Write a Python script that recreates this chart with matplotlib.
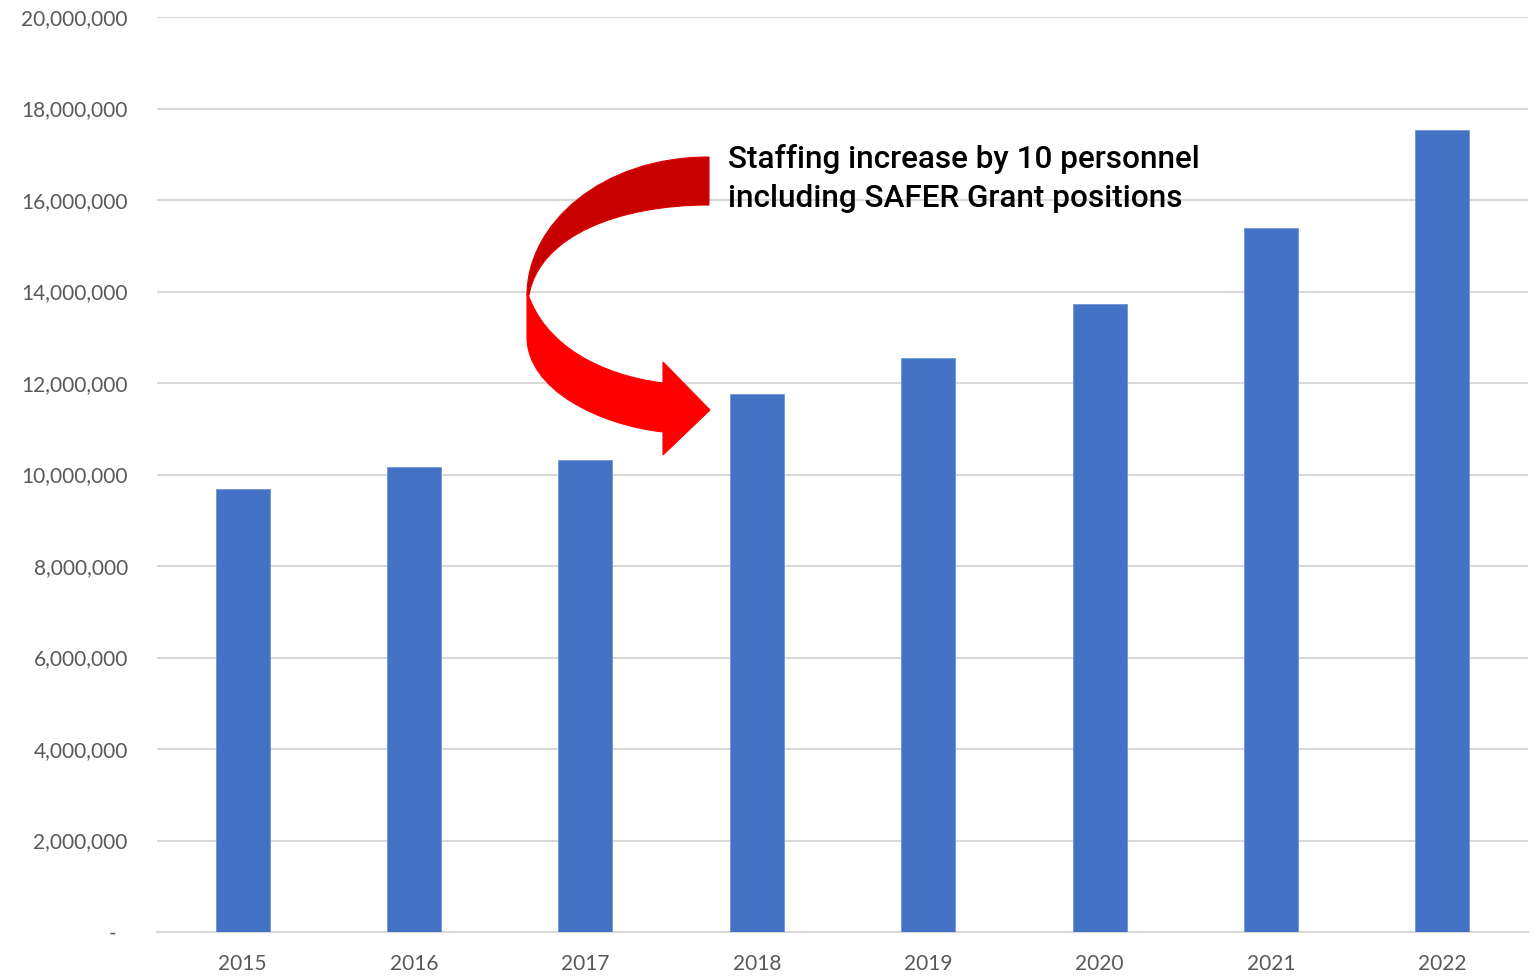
import matplotlib
matplotlib.use("Agg")
import matplotlib.pyplot as plt
from matplotlib.path import Path
from matplotlib.patches import PathPatch
from matplotlib.transforms import Affine2D
from matplotlib.ticker import FuncFormatter

years = ['2015', '2016', '2017', '2018', '2019', '2020', '2021', '2022']
costs = [9680000, 10160000, 10320000, 11760000, 12550000, 13730000, 15390000, 17530000]
y_ticks = [0, 2000000, 4000000, 6000000, 8000000, 10000000, 12000000,
           14000000, 16000000, 18000000, 20000000]
note = "Staffing increase by 10 personnel\nincluding SAFER Grant positions"

W, H = 1536, 977
fig = plt.figure(figsize=(W / 100, H / 100), dpi=100)
ax = fig.add_axes([157 / W, 45 / H, 1371 / W, 915 / H])

x = range(len(years))
ax.bar(x, costs, width=0.315, color='#4472C4', edgecolor='#6f93d3', linewidth=0.6, zorder=3)

ax.set_xlim(-0.5, len(years) - 0.5)
ax.set_ylim(0, 20000000)
ax.set_yticks(y_ticks)
ax.yaxis.set_major_formatter(FuncFormatter(lambda v, p: '-  ' if v == 0 else f'{int(v):,}'))
ax.set_xticks(list(x))
ax.set_xticklabels(years)
ax.grid(axis='y', color='#D9D9D9', linewidth=1.5, zorder=0)
for s in ['top', 'right', 'left']:
    ax.spines[s].set_visible(False)
ax.spines['bottom'].set_color('#D9D9D9')
ax.spines['bottom'].set_linewidth(1.5)
ax.tick_params(axis='both', length=0, labelsize=15, labelcolor='#595959')
ax.tick_params(axis='y', pad=21)
ax.tick_params(axis='x', pad=16)
for lab in ax.get_xticklabels() + ax.get_yticklabels():
    lab.set_family('Lato')

# curved arrow, drawn in pixel coords of the image (y measured from top)
px = Affine2D().scale(1 / W, -1 / H).translate(0, 1) + fig.transFigure
M, C, L, Z = Path.MOVETO, Path.CURVE4, Path.LINETO, Path.CLOSEPOLY

upper = Path(
    [(709, 157), (600, 157), (527, 225), (527, 295),
     (529, 295), (540, 235), (620, 205), (709, 205),
     (709, 157)],
    [M, C, C, C, L, C, C, C, Z])
lower = Path(
    [(528, 294), (545, 345), (600, 375), (663, 383),
     (663, 362), (710, 410), (663, 455), (663, 432),
     (600, 425), (527, 390), (527, 337), (527, 294), (528, 294)],
    [M, C, C, C, L, L, L, L, C, C, C, L, Z])
fig.add_artist(PathPatch(upper, transform=px, facecolor='#C80000', edgecolor='#E00000', lw=0.8, zorder=5))
fig.add_artist(PathPatch(lower, transform=px, facecolor='#FF0000', edgecolor='#FF0000', lw=0.8, zorder=5))

fig.text(728 / W, 1 - 144 / H, note, ha='left', va='top', fontsize=22.7,
         family='Roboto', fontweight='medium', color='black', linespacing=1.42)

fig.savefig('out.png', dpi=100)
